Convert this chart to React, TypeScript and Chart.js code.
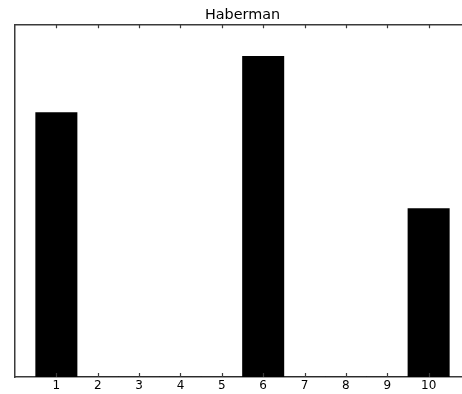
import React, { useEffect, useRef } from "react";
import { Chart, registerables } from "chart.js";

Chart.register(...registerables);

// Bin labels along the x axis and the count in each bin
const categories: string[] = ["1", "2", "3", "4", "5", "6", "7", "8", "9", "10"];
const counts: number[] = [33, 0, 0, 0, 0, 40, 0, 0, 0, 21];
const yMax = 44;
const titleText = "Haberman";

const spineColor = "#3a3a3a";
const spineWidth = 1.5;
const font = "'DejaVu Sans', sans-serif";

// Inward-facing tick marks on the top and bottom spines, matplotlib style
const inwardTicks = {
  id: "inwardTicks",
  afterDraw(chart: Chart) {
    const { ctx, chartArea } = chart;
    const xs = chart.scales.x;
    ctx.save();
    ctx.strokeStyle = spineColor;
    ctx.lineWidth = 1.2;
    const len = 4;
    for (let i = 1; i <= categories.length; i++) {
      const px = Math.round(xs.getPixelForTick(i)) + 0.5;
      ctx.beginPath();
      ctx.moveTo(px, chartArea.bottom);
      ctx.lineTo(px, chartArea.bottom - len);
      ctx.moveTo(px, chartArea.top);
      ctx.lineTo(px, chartArea.top + len);
      ctx.stroke();
    }
    ctx.restore();
  },
};

export default function App() {
  const canvasRef = useRef<HTMLCanvasElement | null>(null);

  useEffect(() => {
    if (!canvasRef.current) return;
    // empty slots at both ends give the axis its 0..11 span
    const labels = ["", ...categories, ""];
    const data = [null, ...counts, null];

    const chart = new Chart(canvasRef.current, {
      type: "bar",
      data: {
        labels,
        datasets: [
          {
            data,
            backgroundColor: "#000000",
            borderWidth: 0,
            barPercentage: 1,
            categoryPercentage: 1,
          },
        ],
      },
      options: {
        animation: false,
        responsive: false,
        maintainAspectRatio: false,
        layout: { padding: { left: 15, right: 10, top: 0, bottom: 3 } },
        plugins: {
          legend: { display: false },
          tooltip: { enabled: false },
          title: {
            display: true,
            text: titleText,
            color: "#000000",
            font: { family: font, size: 14.4, weight: "normal" },
            padding: { top: 7, bottom: 0 },
          },
        },
        scales: {
          x: {
            type: "category",
            offset: false,
            position: "bottom",
            grid: { display: false, drawTicks: false },
            border: { display: true, color: spineColor, width: spineWidth },
            ticks: {
              color: "#000000",
              font: { family: font, size: 12, lineHeight: 1 },
              padding: 3,
              maxRotation: 0,
              autoSkip: false,
            },
          },
          x2: {
            type: "category",
            labels,
            offset: false,
            position: "top",
            grid: { display: false, drawTicks: false },
            border: { display: true, color: spineColor, width: spineWidth },
            ticks: { display: false },
          },
          y: {
            min: 0,
            max: yMax,
            grid: { display: false, drawTicks: false },
            border: { display: true, color: spineColor, width: spineWidth },
            ticks: { display: false },
          },
        },
      },
      plugins: [inwardTicks],
    });

    return () => chart.destroy();
  }, []);

  return (
    <div style={{ position: "fixed", left: 0, top: 0, width: 480, height: 398 }}>
      <canvas ref={canvasRef} width={480} height={398} />
    </div>
  );
}
